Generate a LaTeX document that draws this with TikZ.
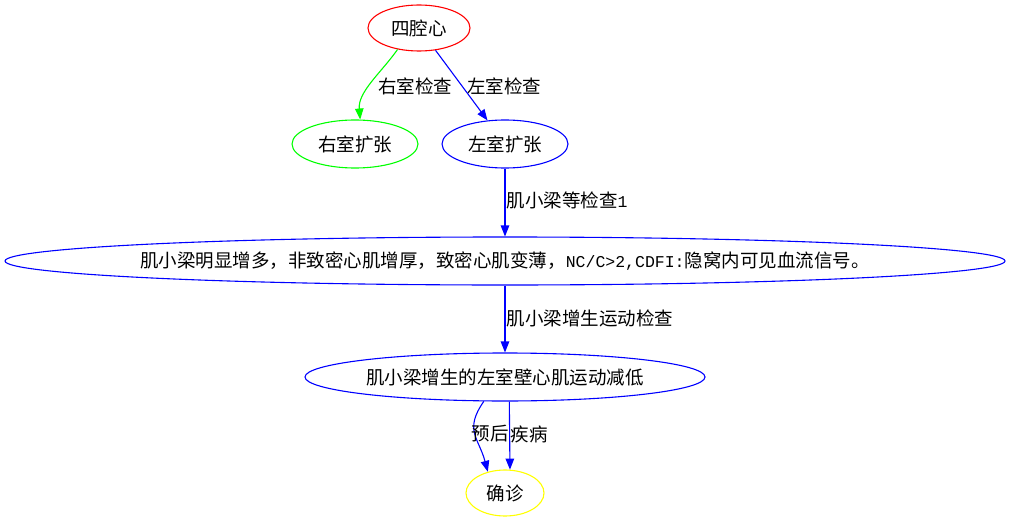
\documentclass[tikz,border=0pt]{standalone}
\usepackage{fontspec}
\setmainfont{Noto Sans CJK SC}
\newfontfamily\monofam{Liberation Mono}
\usetikzlibrary{shapes.geometric,arrows.meta}
\definecolor{gvred}{RGB}{255,0,0}
\definecolor{gvgreen}{RGB}{0,255,0}
\definecolor{gvblue}{RGB}{0,0,255}
\definecolor{gvyellow}{RGB}{255,255,0}
% half-width Latin text inside labels
\newcommand\monotxt[1]{{\monofam\fontsize{16.5}{20}\selectfont #1}}
\begin{document}
\begin{tikzpicture}[x=1pt,y=1pt,
  every node/.append style={font=\fontsize{18.5}{21}\selectfont},
  state/.style={ellipse, draw, line width=1.1pt, inner sep=0pt},
  lbl/.style={inner sep=0pt},
  edge/.style={line width=1.1pt, -{Triangle[length=11pt,width=8.5pt]}}]
\useasboundingbox (0,0) rectangle (1011,523);

% states
\node[state, draw=gvred, minimum width=102, minimum height=46] (n0) at (419,495) {\makebox[0pt]{四腔心}};
\node[state, draw=gvgreen, minimum width=126, minimum height=48] (n1) at (355,379) {\makebox[0pt]{右室扩张}};
\node[state, draw=gvblue, minimum width=126, minimum height=48] (n2) at (505,379) {\makebox[0pt]{左室扩张}};
\node[state, draw=gvblue, minimum width=1000, minimum height=48] (n3) at (505,262)
  {\makebox[0pt]{肌小梁明显增多，非致密心肌增厚，致密心肌变薄，\monotxt{NC/C>2,CDFI:}隐窝内可见血流信号。}};
\node[state, draw=gvblue, minimum width=400, minimum height=48] (n4) at (505,146) {\makebox[0pt]{肌小梁增生的左室壁心肌运动减低}};
\node[state, draw=gvyellow, minimum width=78, minimum height=46] (n5) at (505,30) {\makebox[0pt]{确诊}};

% transitions
\draw[edge, gvgreen] (n0.-135) .. controls +(-125:28) and +(95:28) .. (n1.78);
\draw[edge, gvblue] (n0) -- (n2);
\draw[edge, gvblue] (n2) -- (n3);
\draw[edge, gvblue] (n3) -- (n4);
\draw[edge, gvblue] (n4.-131) .. controls +(-125:35) and +(105:35) .. (n5.129);
\draw[edge, gvblue] (n4.-80) -- (n5.78);

% transition labels
\node[lbl] (l1) at (415,437) {右室检查};
\node[lbl] (l2) at (504,437) {左室检查};
\node[lbl] (l3) at (567,323) {肌小梁等检查\monotxt{1}};
\node[lbl] (l4) at (590,205) {肌小梁增生运动检查};
\node[lbl] (l5) at (490,89) {预后};
\node[lbl] (l6) at (529,89) {疾病};
\end{tikzpicture}
\end{document}
